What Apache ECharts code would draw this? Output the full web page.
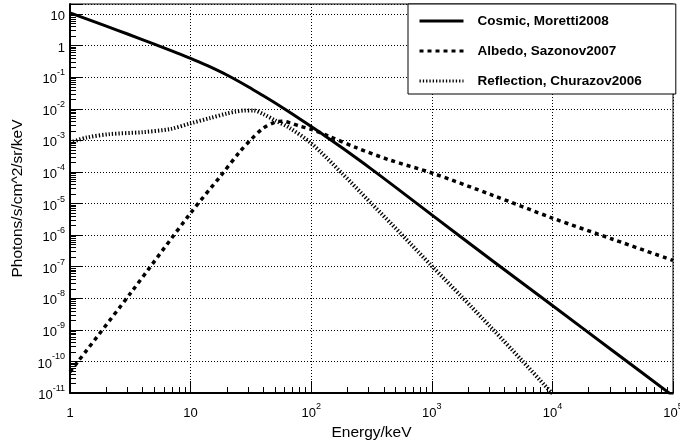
<!DOCTYPE html>
<html><head><meta charset="utf-8">
<script src="https://cdn.jsdelivr.net/npm/echarts@6/dist/echarts.min.js"></script>
<style>html,body{margin:0;padding:0;background:#fff}#c{width:680px;height:441px}</style>
</head><body><div id="c"></div>
<script>
// Energies in keV, fluxes in photons/s/cm^2/sr/keV
const cosmicE = [1, 2, 3, 5, 10, 14.1, 20, 30, 39.8, 55, 70.8, 100, 135, 178, 316, 562, 1000, 3162, 10000, 31623, 100000];
const cosmicFlux = [11, 4.17, 2.34, 1.12, 0.398, 0.224, 0.1175, 0.0501, 0.0263, 0.0123, 6.61e-3, 2.75e-3, 1.26e-3, 6.03e-4, 1.23e-4, 2.34e-5, 4.37e-6, 1.58e-7, 5.89e-9, 2.19e-10, 8.1e-12];

const albedoE = [1, 3.16, 10, 17.8, 25.7, 31.6, 39.8, 50.1, 57.5, 67.6, 79.4, 100, 141, 240, 447, 1000, 3162, 10000, 31623, 100000];
const albedoFlux = [4.68e-11, 1.41e-8, 5.0e-6, 7.6e-5, 4.47e-4, 1.05e-3, 2.4e-3, 3.8e-3, 4.07e-3, 3.55e-3, 2.88e-3, 2.24e-3, 1.35e-3, 5.75e-4, 2.4e-4, 9.3e-5, 1.86e-5, 3.47e-6, 7.4e-7, 1.58e-7];

const reflE = [1, 1.37, 2.14, 3.98, 6.76, 10, 14.5, 20, 23.4, 28.2, 33.1, 39.8, 50.1, 66, 100, 178, 316, 562, 1000, 1778, 3162, 5623, 10000];
const reflFlux = [8.5e-4, 1.23e-3, 1.58e-3, 1.82e-3, 2.29e-3, 3.47e-3, 5.1e-3, 7.1e-3, 8.1e-3, 8.9e-3, 8.9e-3, 6.9e-3, 4.3e-3, 2.5e-3, 8.1e-4, 9.5e-5, 1e-5, 1.05e-6, 1.05e-7, 1.1e-8, 1.1e-9, 1.05e-10, 9.5e-12];

const seriesNames = ['Cosmic, Moretti2008', 'Albedo, Sazonov2007', 'Reflection, Churazov2006'];
const xTitle = 'Energy/keV';
const yTitle = 'Photons/s/cm^2/sr/keV';

const FONT = "'Liberation Sans', Arial, Helvetica, sans-serif";
const pairs = (xs, ys) => xs.map((x, i) => [x, ys[i]]);

function logLabel(v) {
  const e = Math.log10(v);
  const r = Math.round(e);
  if (Math.abs(e - r) > 1e-6) return '';
  if (r === 0) return '{b|1}';
  if (r === 1) return '{b|10}';
  return '{b|10}{s|' + r + '}';
}
const rich = {
  b: {fontSize: 13, lineHeight: 18, verticalAlign: 'bottom', fontFamily: FONT, color: '#000'},
  s: {fontSize: 9, lineHeight: 11, verticalAlign: 'top', fontFamily: FONT, color: '#000'}
};
const gridLine = {show: true, lineStyle: {color: '#000', width: 1, type: [1, 2]}};

const chart = echarts.init(document.getElementById('c'), null, {renderer: 'canvas'});
chart.setOption({
  animation: false,
  backgroundColor: '#fff',
  grid: {left: 70, right: 7, top: 4, bottom: 48, containLabel: false, outerBoundsMode: 'none',
         show: true, borderColor: '#000', borderWidth: 1, backgroundColor: 'transparent'},
  legend: {
    orient: 'vertical', left: 408, top: 4,
    padding: [10, 34, 6, 10],
    itemWidth: 44, itemHeight: 14, itemGap: 16,
    backgroundColor: '#fff', borderColor: '#000', borderWidth: 1,
    itemStyle: {opacity: 0},
    lineStyle: {width: 3},
    textStyle: {fontFamily: FONT, fontWeight: 'bold', fontSize: 13.5, color: '#000', lineHeight: 14, padding: [0, 0, 0, 9]},
    data: seriesNames
  },
  xAxis: {
    type: 'log', logBase: 10, min: 1, max: 100000, interval: 1,
    name: xTitle, nameLocation: 'middle', nameGap: 27,
    nameTextStyle: {fontFamily: FONT, fontSize: 15.5, color: '#000'},
    axisLine: {show: true, onZero: false, lineStyle: {color: '#000', width: 2}},
    axisTick: {show: true, inside: true, length: 12, lineStyle: {color: '#000', width: 1}},
    minorTick: {show: true, splitNumber: 9, length: 6, lineStyle: {color: '#000', width: 1}},
    axisLabel: {margin: 9, formatter: logLabel, rich: rich},
    splitLine: gridLine
  },
  yAxis: {
    type: 'log', logBase: 10, min: 1e-11, max: Math.pow(10, 1.32), interval: 1,
    name: yTitle, nameLocation: 'middle', nameGap: 44, nameRotate: 90,
    nameTextStyle: {fontFamily: FONT, fontSize: 15.5, color: '#000'},
    axisLine: {show: true, onZero: false, lineStyle: {color: '#000', width: 2}},
    axisTick: {show: true, inside: true, length: 12, lineStyle: {color: '#000', width: 1}},
    minorTick: {show: true, splitNumber: 9, length: 6, lineStyle: {color: '#000', width: 1}},
    axisLabel: {margin: 5, formatter: logLabel, rich: rich},
    splitLine: gridLine
  },
  series: [
    {name: seriesNames[0], type: 'line', data: pairs(cosmicE, cosmicFlux), symbol: 'none', smooth: 0.3,
     lineStyle: {color: '#000', width: 3, type: 'solid'}, itemStyle: {color: '#000'}},
    {name: seriesNames[1], type: 'line', data: pairs(albedoE, albedoFlux), symbol: 'none', smooth: 0.3,
     lineStyle: {color: '#000', width: 3.5, type: [4, 4]}, itemStyle: {color: '#000'}},
    {name: seriesNames[2], type: 'line', data: pairs(reflE, reflFlux), symbol: 'none', smooth: 0.3,
     lineStyle: {color: '#000', width: 4, type: [1.3, 2]}, itemStyle: {color: '#000'}}
  ]
});
</script>
</body></html>
